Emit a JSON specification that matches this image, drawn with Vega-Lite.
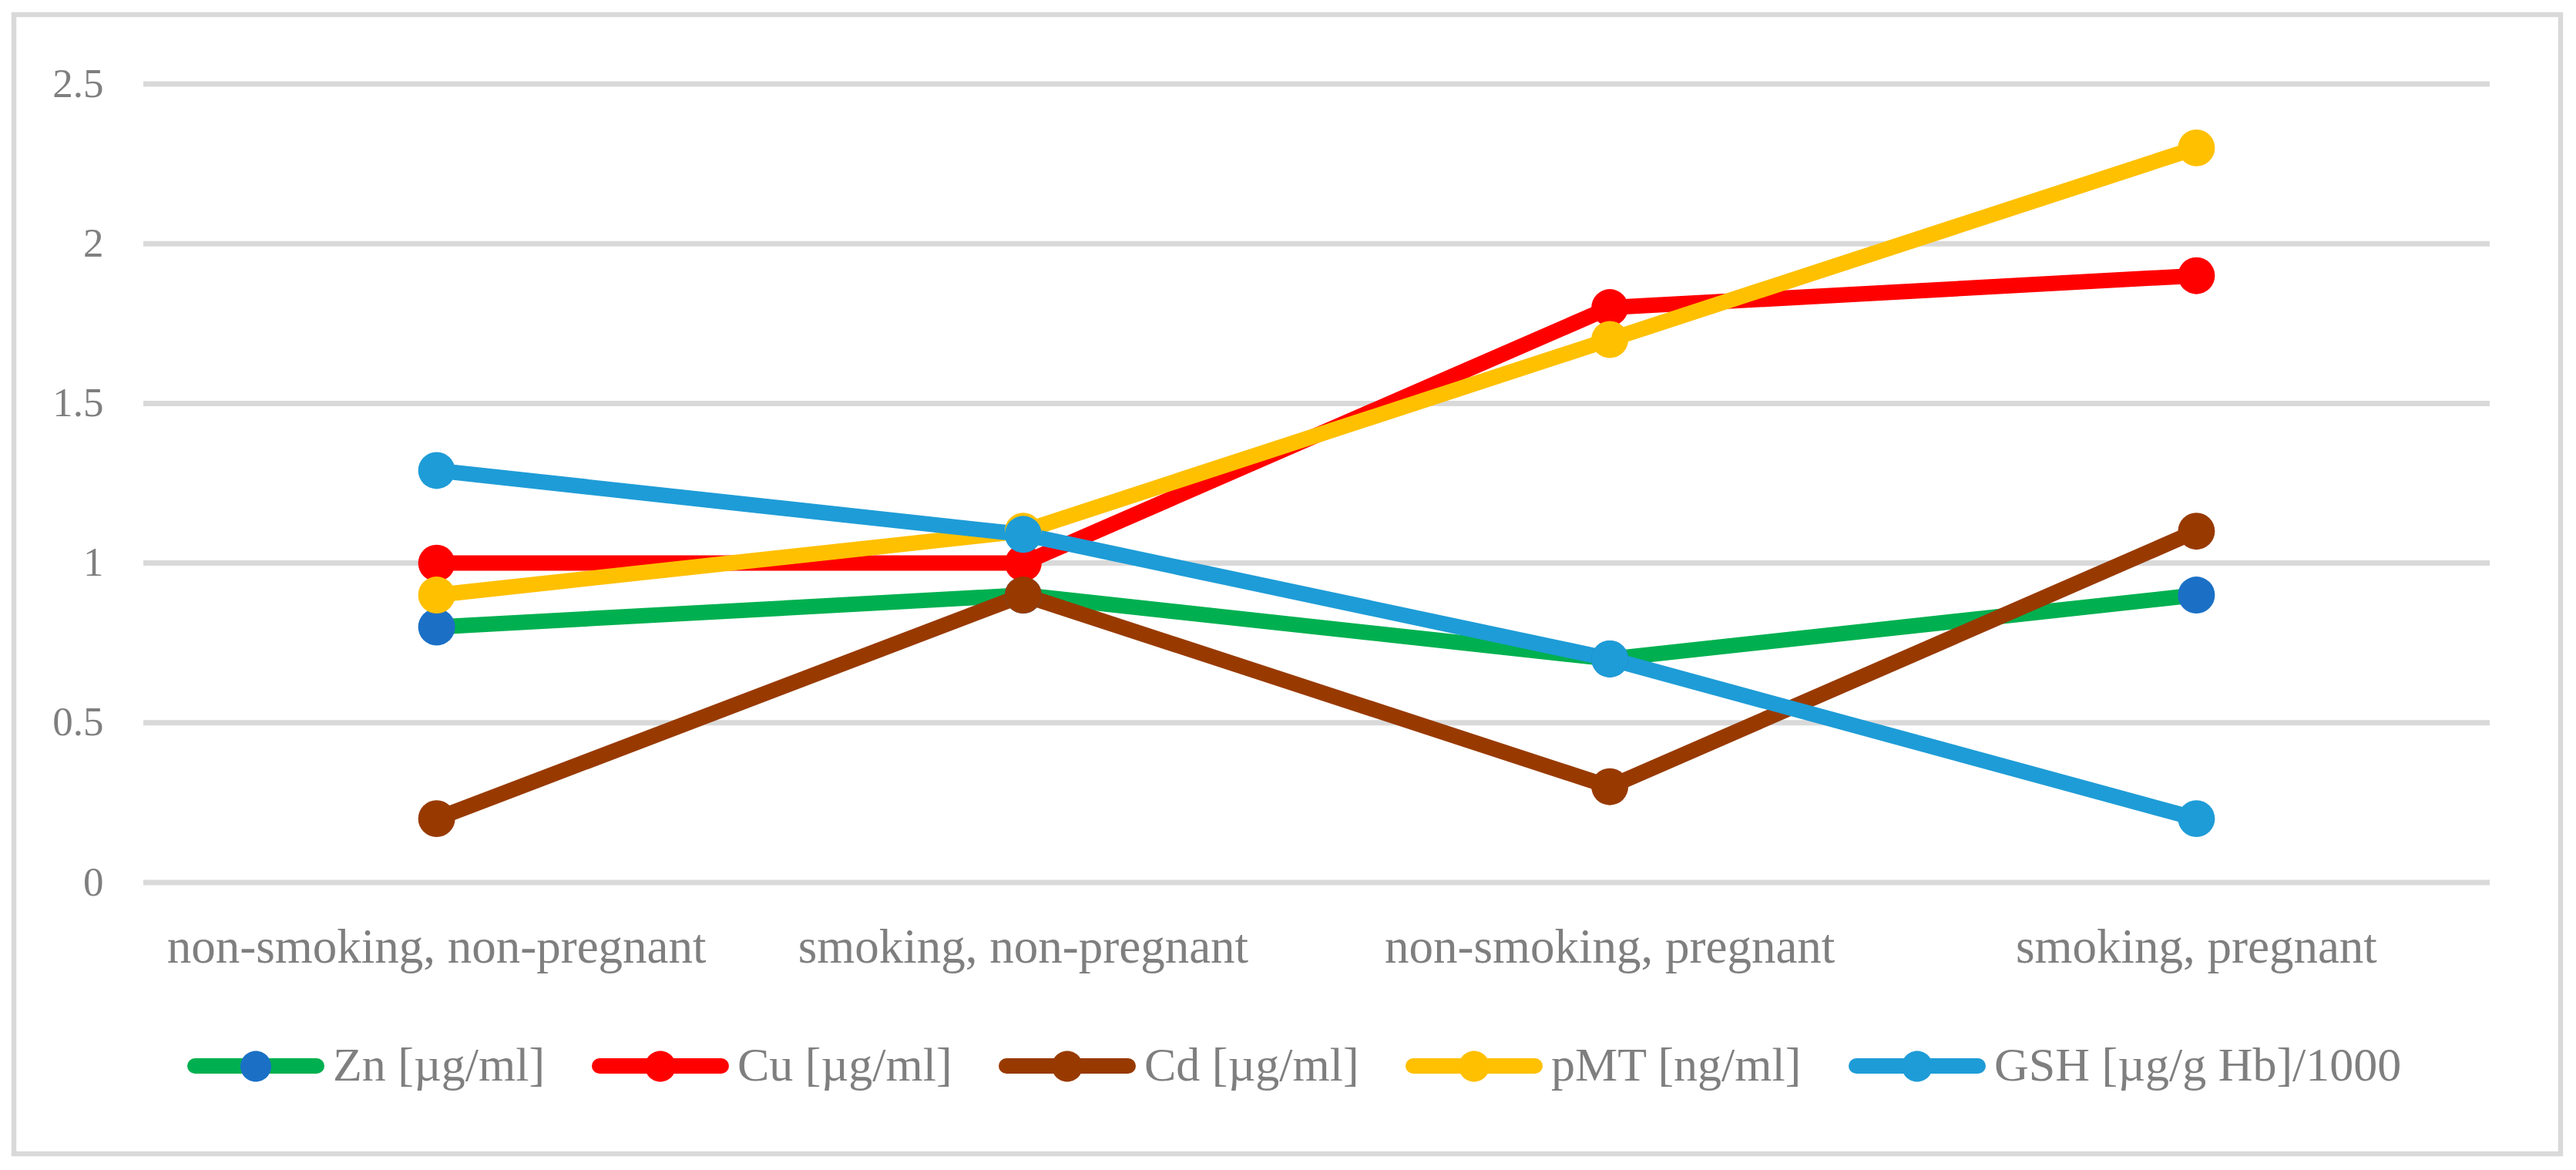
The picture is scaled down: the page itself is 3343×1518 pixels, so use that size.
{
  "$schema": "https://vega.github.io/schema/vega-lite/v6.json",
  "width": 3305,
  "height": 1478,
  "autosize": {"type": "none"},
  "padding": {"left": 18, "top": 19, "right": 20, "bottom": 21},
  "background": "white",
  "config": {
    "view": {"stroke": "#D9D9D9", "strokeWidth": 6.5},
    "font": "Liberation Serif"
  },
  "datasets": {
    "series": [
      {"group": "non-smoking, non-pregnant", "series": "Zn [µg/ml]", "value": 0.8},
      {"group": "smoking, non-pregnant", "series": "Zn [µg/ml]", "value": 0.9},
      {"group": "non-smoking, pregnant", "series": "Zn [µg/ml]", "value": 0.7},
      {"group": "smoking, pregnant", "series": "Zn [µg/ml]", "value": 0.9},
      {"group": "non-smoking, non-pregnant", "series": "Cu [µg/ml]", "value": 1.0},
      {"group": "smoking, non-pregnant", "series": "Cu [µg/ml]", "value": 1.0},
      {"group": "non-smoking, pregnant", "series": "Cu [µg/ml]", "value": 1.8},
      {"group": "smoking, pregnant", "series": "Cu [µg/ml]", "value": 1.9},
      {"group": "non-smoking, non-pregnant", "series": "Cd [µg/ml]", "value": 0.2},
      {"group": "smoking, non-pregnant", "series": "Cd [µg/ml]", "value": 0.9},
      {"group": "non-smoking, pregnant", "series": "Cd [µg/ml]", "value": 0.3},
      {"group": "smoking, pregnant", "series": "Cd [µg/ml]", "value": 1.1},
      {"group": "non-smoking, non-pregnant", "series": "pMT [ng/ml]", "value": 0.9},
      {"group": "smoking, non-pregnant", "series": "pMT [ng/ml]", "value": 1.1},
      {"group": "non-smoking, pregnant", "series": "pMT [ng/ml]", "value": 1.7},
      {"group": "smoking, pregnant", "series": "pMT [ng/ml]", "value": 2.3},
      {"group": "non-smoking, non-pregnant", "series": "GSH [µg/g Hb]/1000", "value": 1.29},
      {"group": "smoking, non-pregnant", "series": "GSH [µg/g Hb]/1000", "value": 1.09},
      {"group": "non-smoking, pregnant", "series": "GSH [µg/g Hb]/1000", "value": 0.7},
      {"group": "smoking, pregnant", "series": "GSH [µg/g Hb]/1000", "value": 0.2}
    ],
    "grid": [
      {"value": 0}, {"value": 0.5}, {"value": 1}, {"value": 1.5}, {"value": 2}, {"value": 2.5}
    ]
  },
  "encoding": {
    "x": {
      "field": "group",
      "type": "nominal",
      "scale": {
        "type": "band",
        "domain": ["non-smoking, non-pregnant", "smoking, non-pregnant", "non-smoking, pregnant", "smoking, pregnant"],
        "paddingInner": 0,
        "paddingOuter": 0.17077,
        "align": 0.6462
      },
      "axis": {
        "title": null,
        "orient": "bottom",
        "offset": -249,
        "domain": false,
        "ticks": false,
        "tickSize": 0,
        "grid": false,
        "labelPadding": 0,
        "labelBaseline": "alphabetic",
        "labelAngle": 0,
        "labelFont": "Liberation Serif",
        "labelFontSize": 63,
        "labelColor": "#7F7F7F",
        "labelLimit": 0
      }
    },
    "y": {
      "field": "value",
      "type": "quantitative",
      "scale": {"domain": [-0.8494, 2.7172], "nice": false, "zero": false},
      "axis": {
        "title": null,
        "orient": "left",
        "offset": -116,
        "values": [0, 0.5, 1, 1.5, 2, 2.5],
        "format": "~g",
        "domain": false,
        "ticks": false,
        "tickSize": 0,
        "grid": false,
        "labelPadding": 0,
        "labelAlign": "right",
        "labelBaseline": "middle",
        "labelFont": "Liberation Serif",
        "labelFontSize": 53,
        "labelColor": "#7F7F7F"
      }
    }
  },
  "layer": [
    {
      "data": {"name": "grid"},
      "mark": {"type": "rule", "color": "#D9D9D9", "strokeWidth": 7},
      "encoding": {
        "x": {"datum": "non-smoking, non-pregnant", "bandPosition": 0},
        "x2": {"datum": "smoking, pregnant", "bandPosition": 1}
      }
    },
    {
      "data": {"name": "series"},
      "mark": {"type": "line", "strokeWidth": 20, "strokeCap": "round", "strokeJoin": "round"},
      "encoding": {
        "order": {"value": null},
        "stroke": {
          "field": "series",
          "type": "nominal",
          "scale": {
            "domain": ["Zn [µg/ml]", "Cu [µg/ml]", "Cd [µg/ml]", "pMT [ng/ml]", "GSH [µg/g Hb]/1000"],
            "range": ["#00B050", "#FF0000", "#983A00", "#FFC000", "#1E9CD7"]
          },
          "legend": {
            "orient": "none",
            "legendX": 225,
            "legendY": 1275,
            "direction": "horizontal",
            "title": null,
            "padding": 0,
            "symbolType": "stroke",
            "symbolSize": 24964,
            "symbolStrokeWidth": 20,
            "labelFont": "Liberation Serif",
            "labelFontSize": 62,
            "labelColor": "#7F7F7F",
            "labelOffset": 11,
            "labelLimit": 0,
            "columnPadding": 30,
            "encode": {"symbols": {"update": {"strokeCap": {"value": "round"}}}}
          }
        }
      }
    },
    {
      "data": {"name": "series"},
      "mark": {"type": "point", "shape": "circle", "filled": true, "size": 2300, "opacity": 1, "strokeWidth": 0},
      "encoding": {
        "fill": {
          "field": "series",
          "type": "nominal",
          "sort": ["Zn [µg/ml]", "Cu [µg/ml]", "Cd [µg/ml]", "pMT [ng/ml]", "GSH [µg/g Hb]/1000"],
          "scale": {
            "range": ["#1B70C6", "#FF0000", "#983A00", "#FFC000", "#1E9CD7"]
          },
          "legend": {
            "orient": "none",
            "legendX": 225,
            "legendY": 1275,
            "direction": "horizontal",
            "title": null,
            "padding": 0,
            "symbolType": "M-1,0L-1,0M1,0L1,0M0.2532,0A0.2532,0.2532,0,1,1,-0.2532,0A0.2532,0.2532,0,1,1,0.2532,0Z",
            "symbolSize": 24964,
            "symbolStrokeWidth": 20,
            "symbolStrokeColor": "transparent",
            "labelFont": "Liberation Serif",
            "labelFontSize": 62,
            "labelColor": "#7F7F7F",
            "labelOpacity": 0,
            "labelOffset": 11,
            "labelLimit": 0,
            "columnPadding": 30
          }
        }
      }
    }
  ]
}
